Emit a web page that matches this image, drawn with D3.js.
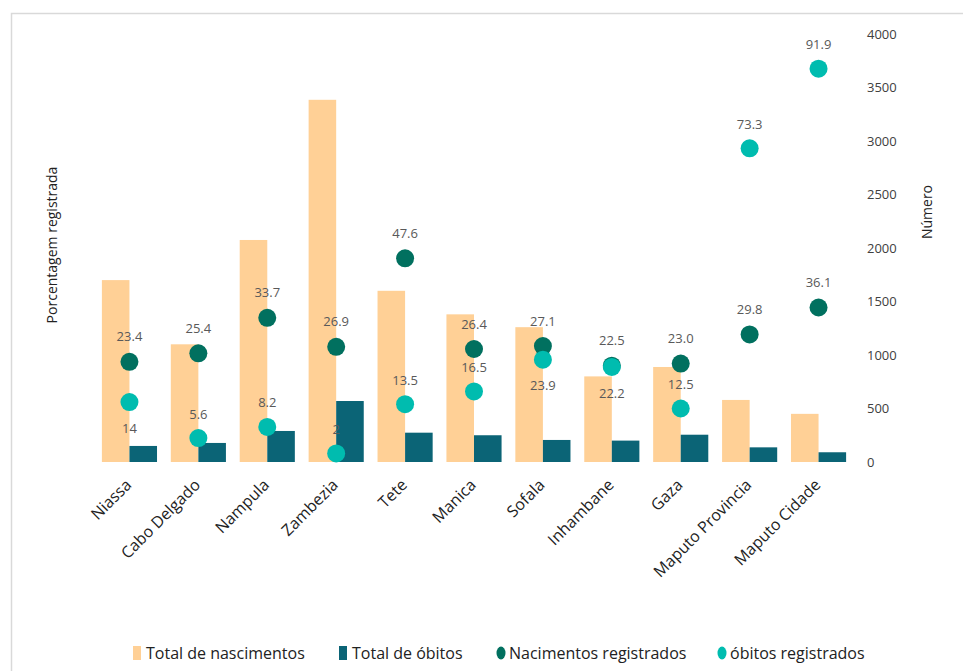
<!DOCTYPE html>
<html><head><meta charset="utf-8">
<script src="https://cdn.jsdelivr.net/npm/d3@7/dist/d3.min.js"></script>
<style>
html,body{margin:0;padding:0;background:#fff;}
svg{display:block;font-family:"Open Sans",sans-serif;}
</style></head><body>
<svg id="c" width="963" height="671"></svg>
<script>
const categories = ["Niassa","Cabo Delgado","Nampula","Zambezia","Tete","Manica","Sofala","Inhambane","Gaza","Maputo Provincia","Maputo Cidade"];
const totalNascimentos = [1700,1100,2075,3385,1600,1380,1260,800,888,580,450];
const totalObitos = [150,178,290,570,274,250,206,200,255,137,91];
const nascRegistrados = [23.4,25.4,33.7,26.9,47.6,26.4,27.1,22.5,23.0,29.8,36.1];
const nascLabels = ["23.4","25.4","33.7","26.9","47.6","26.4","27.1","22.5","23.0","29.8","36.1"];
const obitosRegistrados = [14,5.6,8.2,2,13.5,16.5,23.9,22.2,12.5,73.3,91.9];
const obitosLabels = ["14","5.6","8.2","2","13.5","16.5","23.9","22.2","12.5","73.3","91.9"];
const obitosLabelBelow = [true,false,false,false,false,false,true,true,false,false,false];
const rightTicks = [0,500,1000,1500,2000,2500,3000,3500,4000];
const legendItems = ["Total de nascimentos","Total de óbitos","Nacimentos registrados","óbitos registrados"];

const colors = {nasc:"#FFD096", obit:"#0B6476", nascDot:"#01705F", obitDot:"#00BCAF"};

const svg = d3.select("#c");
// outer border
svg.append("rect").attr("x",11.5).attr("y",13.5).attr("width",1000).attr("height",700)
  .attr("fill","none").attr("stroke","#d9d9d9").attr("stroke-width",1.5);

const x = d3.scaleBand().domain(categories).range([95,853]).paddingInner(0.2).paddingOuter(0.1);
const yR = d3.scaleLinear().domain([0,4000]).range([462,34]);
const yL = d3.scaleLinear().domain([0,100]).range([462,34]);
const bw = x.bandwidth()/2;

// bars
svg.append("g").selectAll("rect").data(categories).join("rect")
  .attr("x",d=>x(d)).attr("width",bw)
  .attr("y",(d,i)=>yR(totalNascimentos[i])).attr("height",(d,i)=>yR(0)-yR(totalNascimentos[i]))
  .attr("fill",colors.nasc);
svg.append("g").selectAll("rect").data(categories).join("rect")
  .attr("x",d=>x(d)+bw).attr("width",bw)
  .attr("y",(d,i)=>yR(totalObitos[i])).attr("height",(d,i)=>yR(0)-yR(totalObitos[i]))
  .attr("fill",colors.obit);

const cx = d=>x(d)+x.bandwidth()/2;
// dots
svg.append("g").selectAll("circle").data(categories).join("circle")
  .attr("cx",cx).attr("cy",(d,i)=>yL(nascRegistrados[i])).attr("r",9)
  .attr("fill",colors.nascDot);
svg.append("g").selectAll("circle").data(categories).join("circle")
  .attr("cx",cx).attr("cy",(d,i)=>yL(obitosRegistrados[i])).attr("r",9)
  .attr("fill",colors.obitDot);

// labels
const lab = svg.append("g").attr("font-size",13).attr("fill","#595959").attr("text-anchor","middle");
lab.selectAll("text.n").data(categories).join("text").attr("class","n")
  .attr("x",cx).attr("y",(d,i)=>yL(nascRegistrados[i])-25).attr("dy","0.35em")
  .text((d,i)=>nascLabels[i]);
lab.selectAll("text.o").data(categories).join("text").attr("class","o")
  .attr("x",cx).attr("y",(d,i)=>yL(obitosRegistrados[i])+(obitosLabelBelow[i]?26:-24)).attr("dy","0.35em")
  .text((d,i)=>obitosLabels[i]);

// right axis
const ax = svg.append("g").attr("transform","translate(858,0)")
  .call(d3.axisRight(yR).tickValues(rightTicks).tickFormat(d3.format("d")).tickSize(0).tickPadding(9));
ax.select(".domain").remove();
ax.selectAll("text").attr("font-size",13).attr("fill","#404040").attr("font-family","Open Sans");

// x labels
svg.append("g").selectAll("text").data(categories).join("text")
  .attr("transform",d=>`translate(${cx(d)-1},${482}) rotate(-45)`)
  .attr("text-anchor","end").attr("dy","0.35em").attr("font-size",16).attr("fill","#222")
  .text(d=>d);

// axis titles
svg.append("text").attr("transform","translate(927,212) rotate(-90)").attr("text-anchor","middle")
  .attr("dy","0.35em").attr("font-size",14).attr("fill","#222").text("Número");
svg.append("text").attr("transform","translate(52,245) rotate(-90)").attr("text-anchor","middle")
  .attr("dy","0.35em").attr("font-size",14).attr("fill","#222").text("Porcentagem registrada");

// legend
const lx = [133,339,497,718];
const lg = svg.append("g");
legendItems.forEach((t,i)=>{
  const g = lg.append("g").attr("transform",`translate(${lx[i]},653)`);
  if(i<2){
    g.append("rect").attr("x",0).attr("y",-7).attr("width",8).attr("height",14)
      .attr("fill",i===0?colors.nasc:colors.obit);
  } else {
    g.append("ellipse").attr("cx",4).attr("cy",0).attr("rx",4.5).attr("ry",6.5)
      .attr("fill",i===2?colors.nascDot:colors.obitDot);
  }
  g.append("text").attr("x",i<2?13:12).attr("y",0).attr("dy","0.35em")
    .attr("font-size",16).attr("fill","#222").text(t);
});
</script></body></html>
